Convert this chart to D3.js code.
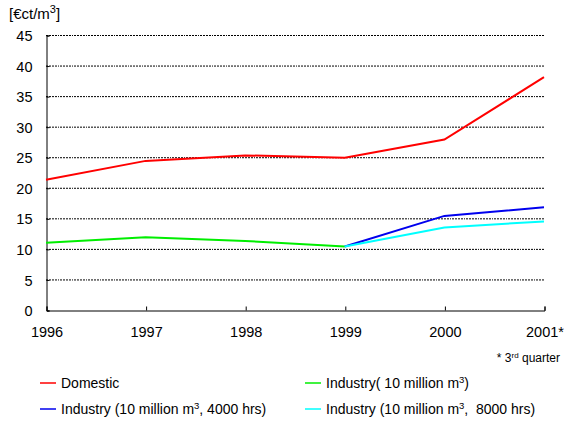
<!DOCTYPE html>
<html>
<head>
<meta charset="utf-8">
<script src="https://cdn.jsdelivr.net/npm/d3@7"></script>
<style>
  body { margin: 0; background: #fff; }
  text { font-family: "Liberation Sans", Arial, sans-serif; fill: #000; }
  .legend text { white-space: pre; }
</style>
</head>
<body>
<svg id="chart" width="572" height="421"></svg>
<script>
'use strict';

var years = [1996, 1997, 1998, 1999, 2000, 2001],
    yearLabels = ['1996', '1997', '1998', '1999', '2000', '2001*'],
    yTicks = [0, 5, 10, 15, 20, 25, 30, 35, 40, 45],
    domestic = [21.3, 24.4, 25.3, 24.9, 27.9, 38.1],
    industry = [11.0, 11.9, 11.3, 10.4, null, null],
    industry4000 = [null, null, null, 10.4, 15.4, 16.8],
    industry8000 = [null, null, null, 10.4, 13.5, 14.5];

var series = [
  { name: 'Domestic', values: domestic, color: '#ff0000' },
  { name: 'Industry( 10 million m', sup: '3', tail: ')', values: industry, color: '#00ee00' },
  { name: 'Industry (10 million m', sup: '3', tail: ', 4000 hrs)', values: industry4000, color: '#0000ee' },
  { name: 'Industry (10 million m', sup: '3', tail: ',  8000 hrs)', values: industry8000, color: '#00ffff' }
];

var svg = d3.select('#chart'),
    x = d3.scaleLinear().domain([1996, 2001]).range([46, 544]),
    y = d3.scaleLinear().domain([0, 45]).range([310, 35]);

// grid lines
svg.append('g').selectAll('line').data(yTicks.slice(1)).enter().append('line')
  .attr('x1', x(1996)).attr('x2', x(2001))
  .attr('y1', function (d) { return y(d) + 0.5; })
  .attr('y2', function (d) { return y(d) + 0.5; })
  .attr('stroke', '#000').attr('stroke-width', 1)
  .attr('stroke-dasharray', '2,1,2,1,2,1,2,1,1,1');

// y axis
var yAxis = svg.append('g').attr('transform', 'translate(' + (x(1996) + 0.5) + ',0.5)')
  .call(d3.axisLeft(y).tickValues(yTicks).tickSize(-3).tickPadding(14));
yAxis.select('.domain').attr('stroke', '#000');
yAxis.selectAll('.tick line').attr('stroke', '#000');
yAxis.selectAll('text').style('font-size', '14.5px').attr('dy', '0.35em');

// x axis
var xAxis = svg.append('g').attr('transform', 'translate(0.5,' + (y(0) + 0.5) + ')')
  .call(d3.axisBottom(x).tickValues(years).tickSize(-4).tickPadding(16)
    .tickFormat(function (d, i) { return yearLabels[i]; }));
xAxis.select('.domain').attr('stroke', '#000');
xAxis.selectAll('.tick line').attr('stroke', '#000');
xAxis.selectAll('text').style('font-size', '14.5px');

// lines
var line = d3.line()
  .defined(function (d) { return d != null; })
  .x(function (d, i) { return x(years[i]); })
  .y(function (d) { return y(d); });

svg.append('g').selectAll('path').data(series).enter().append('path')
  .attr('d', function (d) { return line(d.values); })
  .attr('fill', 'none')
  .attr('stroke', function (d) { return d.color; })
  .attr('stroke-width', 2);

// unit label
var unit = svg.append('text').attr('x', 9).attr('y', 19).style('font-size', '15px');
unit.append('tspan').text('[€ct/m');
unit.append('tspan').attr('dy', -6).style('font-size', '11px').text('3');
unit.append('tspan').attr('dy', 6).text(']');

// footnote
var note = svg.append('text').attr('x', 560).attr('y', 362).attr('text-anchor', 'end').style('font-size', '12px');
note.append('tspan').text('* 3');
note.append('tspan').attr('dy', -4).style('font-size', '8px').text('rd');
note.append('tspan').attr('dy', 4).text(' quarter');

// legend
var legendPos = [[40, 383], [305, 383], [40, 409], [305, 409]];
var lg = svg.append('g').attr('class', 'legend').selectAll('g').data(series).enter().append('g')
  .attr('transform', function (d, i) { return 'translate(' + legendPos[i][0] + ',' + legendPos[i][1] + ')'; });
lg.append('line').attr('x1', 0).attr('x2', 16).attr('y1', 0).attr('y2', 0)
  .attr('stroke', function (d) { return d.color; }).attr('stroke-width', 1.5);
lg.each(function (d) {
  var t = d3.select(this).append('text').attr('x', 21).attr('y', 5).style('font-size', '14px');
  t.append('tspan').text(d.name);
  if (d.sup) {
    t.append('tspan').attr('dy', -5).style('font-size', '9.5px').text(d.sup);
    t.append('tspan').attr('dy', 5).text(d.tail);
  }
});
</script>
</body>
</html>
